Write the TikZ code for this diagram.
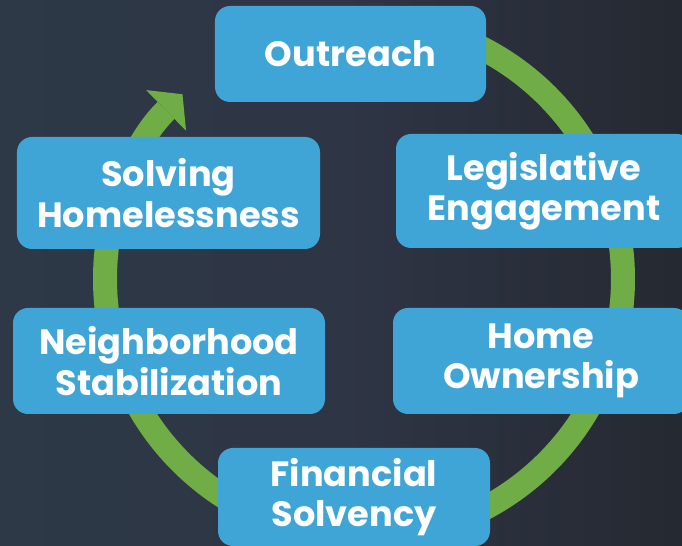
\documentclass[tikz,border=0pt]{standalone}
\usepackage{fontspec}
\setmainfont{Poppins}
\usetikzlibrary{arrows.meta}
\definecolor{bgleft}{RGB}{45,57,71}
\definecolor{bgmid}{RGB}{46,53,69}
\definecolor{bgright}{RGB}{37,41,49}
\definecolor{stepblue}{RGB}{62,165,214}
\definecolor{ringgreen}{RGB}{112,173,71}

\begin{document}
\begin{tikzpicture}[
  stage/.style={fill=stepblue, rounded corners=0.3cm, text=white, align=center,
    font=\bfseries\fontsize{20}{23}\selectfont, inner sep=0pt},
  ring/.style={draw=ringgreen, line width=0.48cm,
    -{Triangle[width=1.14cm,length=0.46cm,line width=0pt]}}
]
\useasboundingbox (0,0) rectangle (13.64,10.92);
\shade[left color=bgleft, right color=bgright, middle color=bgmid] (0,0) rectangle (13.64,10.92);

\coordinate (hub) at (7.28,5.34);
\draw[ring] ([shift={(450:5.18)}]hub) arc[start angle=450, end angle=134.5, radius=5.18];

\node[stage, minimum width=5.42cm, minimum height=1.92cm] (outreach) at (7.01,9.84) {Outreach};
\node[stage, minimum width=5.92cm, minimum height=2.28cm] (legis) at (10.88,7.10) {Legislative\\Engagement};
\node[stage, minimum width=5.92cm, minimum height=2.12cm] (home) at (10.82,3.70) {Home\\Ownership};
\node[stage, minimum width=5.44cm, minimum height=1.96cm] (finance) at (7.08,0.98) {Financial\\Solvency};
\node[stage, minimum width=6.24cm, minimum height=2.12cm] (neighbor) at (3.38,3.70) {Neighborhood\\Stabilization};
\node[stage, minimum width=6.06cm, minimum height=2.24cm] (solving) at (3.37,7.06) {Solving\\Homelessness};
\end{tikzpicture}
\end{document}
